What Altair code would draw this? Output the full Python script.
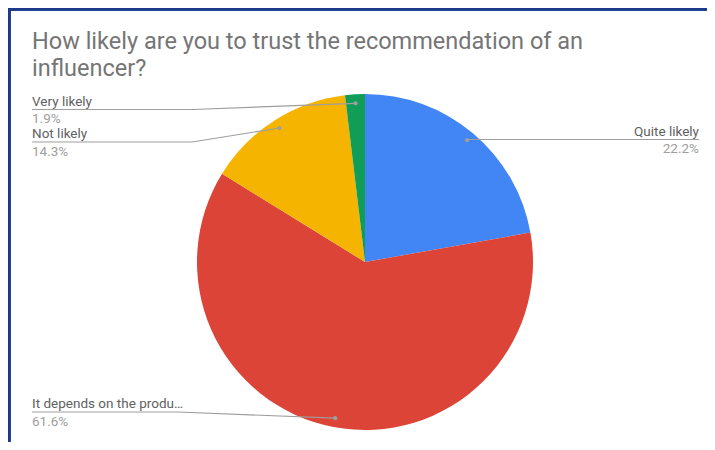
import altair as alt
import pandas as pd

# ---- data ----
categories = ["Quite likely", "It depends on the product", "Not likely", "Very likely"]
values = [22.2, 61.6, 14.3, 1.9]
display_names = ["Quite likely", "It depends on the produ…", "Not likely", "Very likely"]
pct_labels = ["22.2%", "61.6%", "14.3%", "1.9%"]
colors = ["#4285F4", "#DB4437", "#F4B400", "#0F9D58"]
title_lines = ["How likely are you to trust the recommendation of an", "influencer?"]

# ---- layout (chart pixel coords) ----
W, H = 699, 434
CX, CY, R = 357, 254, 168
R_DOT = 159
label_side = ["right", "left", "left", "left"]
label_line_y = [131.5, 404, 134, 101.5]
label_elbow_x = [459, 170, 184, 185]
LEFT_X, RIGHT_X = 24, 691

df = pd.DataFrame({
    "category": categories,
    "value": values,
    "name": display_names,
    "pct": pct_labels,
    "order": list(range(len(categories))),
    "side": label_side,
    "ly": label_line_y,
    "ex": label_elbow_x,
})
df["tx"] = [RIGHT_X if s == "right" else LEFT_X for s in label_side]

base = alt.Chart(df)

pie = base.mark_arc(radius=R).encode(
    theta=alt.Theta("value:Q", stack=True),
    order=alt.Order("order:Q"),
    color=alt.Color("category:N", scale=alt.Scale(domain=categories, range=colors), legend=None),
    x=alt.value(CX),
    y=alt.value(CY),
)

anch = base.transform_window(
    cum="sum(value)", sort=[alt.SortField("order")]
).transform_joinaggregate(
    total="sum(value)"
).transform_calculate(
    mid="(datum.cum - datum.value/2)/datum.total*2*PI",
    ax=f"{CX}+{R_DOT}*sin(datum.mid)",
    ay=f"{CY}-{R_DOT}*cos(datum.mid)",
)

line_col = "#9e9e9e"
underline = base.mark_rule(color=line_col, strokeWidth=1.2).encode(
    x=alt.X("tx:Q", scale=None), x2="ex:Q",
    y=alt.Y("ly:Q", scale=None), y2="ly:Q",
)
leader = anch.mark_rule(color=line_col, strokeWidth=1.2).encode(
    x=alt.X("ex:Q", scale=None), x2="ax:Q",
    y=alt.Y("ly:Q", scale=None), y2="ay:Q",
)
dots = anch.mark_circle(color="#9e9e9e", opacity=1, size=18).encode(
    x=alt.X("ax:Q", scale=None), y=alt.Y("ay:Q", scale=None),
)

LABEL_FS = 13.5

def label_layer(side, align):
    src = base.transform_filter(alt.datum.side == side)
    names = src.mark_text(align=align, baseline="alphabetic", dy=-4, font="Roboto",
                          fontSize=LABEL_FS, color="#616161").encode(
        x=alt.X("tx:Q", scale=None), y=alt.Y("ly:Q", scale=None), text="name:N")
    pcts = src.mark_text(align=align, baseline="alphabetic", dy=13.5, font="Roboto",
                         fontSize=LABEL_FS, color="#9e9e9e").encode(
        x=alt.X("tx:Q", scale=None), y=alt.Y("ly:Q", scale=None), text="pct:N")
    return names + pcts

tdf = pd.DataFrame({"t": title_lines, "i": [0, 1]})
title = alt.Chart(tdf).mark_text(align="left", baseline="alphabetic", font="Roboto",
                                 fontSize=23.5, color="#757575").encode(
    x=alt.value(24),
    y=alt.Y("i:Q", scale=alt.Scale(domain=[0, 1], range=[41, 68]), axis=None),
    text="t:N",
)

border_col = "#1b3a8a"
top_border = base.mark_rule(color=border_col, strokeWidth=3).encode(
    x=alt.value(0), x2=alt.value(W), y=alt.value(1))
left_border = base.mark_rule(color=border_col, strokeWidth=3).encode(
    x=alt.value(1), y=alt.value(0), y2=alt.value(H))

chart = alt.layer(
    pie, underline, leader, dots,
    label_layer("left", "left"), label_layer("right", "right"),
    title, top_border, left_border,
).properties(
    width=W, height=H, padding=0, autosize=alt.AutoSizeParams(type="none"),
).configure_view(stroke=None).configure(background="white")

chart.save("out.html", embed_options={"renderer": "svg", "actions": False})
